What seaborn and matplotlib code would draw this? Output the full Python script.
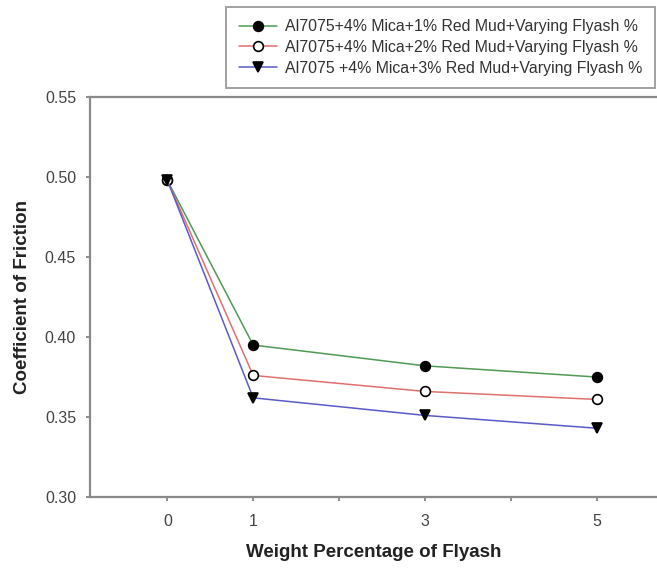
import numpy as np
import pandas as pd
import matplotlib
matplotlib.use("Agg")
import matplotlib.pyplot as plt
import seaborn as sns

# data
flyash = [0, 1, 3, 5]
mud1 = [0.498, 0.395, 0.382, 0.375]
mud2 = [0.498, 0.376, 0.366, 0.361]
mud3 = [0.498, 0.362, 0.351, 0.343]
labels = ["Al7075+4% Mica+1% Red Mud+Varying Flyash %",
          "Al7075+4% Mica+2% Red Mud+Varying Flyash %",
          "Al7075 +4% Mica+3% Red Mud+Varying Flyash %"]
xticks = [0, 1, 2, 3, 4, 5]
xticklabels = ["0", "1", "", "3", "", "5"]
yticks = [0.30, 0.35, 0.40, 0.45, 0.50, 0.55]

sns.set_style("ticks")
plt.rcParams["font.family"] = ["Liberation Sans", "DejaVu Sans"]

fig = plt.figure(figsize=(6.57, 5.68), dpi=100)
ax = fig.add_axes([0.137, 0.125, 0.863, 0.704])

styles = [
    dict(color="#4f9a55", marker="o", mfc="black", mec="black"),
    dict(color="#e0706e", marker="o", mfc="white", mec="black"),
    dict(color="#5a5ac8", marker="v", mfc="black", mec="black"),
]
series = [mud1, mud2, mud3]

for vals, lab, st in zip(series, labels, styles):
    df = pd.DataFrame({"x": flyash, "y": vals})
    sns.lineplot(data=df, x="x", y="y", ax=ax, label=lab,
                 color=st["color"], marker=st["marker"],
                 markerfacecolor=st["mfc"], markeredgecolor=st["mec"],
                 markersize=7, markeredgewidth=1.2, linewidth=1.1)

ax.set_xlim(-0.9, 5.7)
ax.set_ylim(0.30, 0.55)
ax.set_xticks(xticks)
ax.set_xticklabels(xticklabels)
ax.set_yticks(yticks)
ax.set_yticklabels([f"{v:.2f}" for v in yticks])

ax.tick_params(axis="both", direction="out", length=3, width=1.2,
               color="#7a7a7a", labelsize=11.5, labelcolor="#444444")
ax.tick_params(axis="x", pad=9)
ax.tick_params(axis="y", pad=7)

ax.spines["right"].set_visible(False)
for s in ["left", "bottom", "top"]:
    ax.spines[s].set_color("#8a8a8a")
    ax.spines[s].set_linewidth(1.6)

ax.set_xlabel("Weight Percentage of Flyash", fontsize=13.5, fontweight="bold",
              color="#222222", labelpad=11)
ax.set_ylabel("Coefficient of Friction", fontsize=13.5, fontweight="bold",
              color="#222222", labelpad=10)

leg = ax.legend(loc="upper right", bbox_to_anchor=(0.997, 0.988),
                bbox_transform=fig.transFigure, fontsize=11.4,
                frameon=True, fancybox=False, handlelength=2.4,
                handletextpad=0.5, labelspacing=0.35, borderpad=0.8,
                borderaxespad=0)
leg.get_frame().set_edgecolor("#8a8a8a")
leg.get_frame().set_linewidth(1.4)
for t in leg.get_texts():
    t.set_color("#333333")

plt.savefig("out.png", dpi=100)
